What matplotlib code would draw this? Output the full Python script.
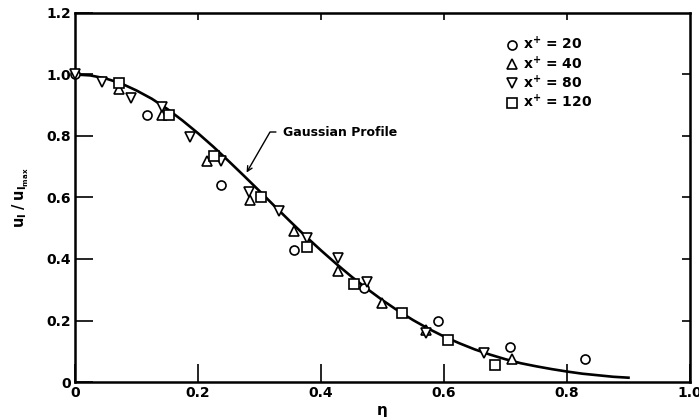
import numpy as np
import matplotlib
matplotlib.use("Agg")
import matplotlib.pyplot as plt

plt.rcParams['font.family'] = ['DejaVu Sans']
plt.rcParams['mathtext.default'] = 'bf'

# Gaussian profile
eta_fit = [0.0, 0.025, 0.05, 0.075, 0.10, 0.125, 0.15, 0.175, 0.20, 0.225,
           0.25, 0.275, 0.30, 0.325, 0.35, 0.375, 0.40, 0.425, 0.45, 0.475,
           0.50, 0.525, 0.55, 0.575, 0.60, 0.625, 0.65, 0.675, 0.70, 0.725,
           0.75, 0.775, 0.80, 0.825, 0.85, 0.875, 0.90]
u_fit = [1.000, 0.997, 0.987, 0.971, 0.948, 0.921, 0.888, 0.850, 0.809, 0.765,
         0.718, 0.670, 0.621, 0.571, 0.522, 0.474, 0.428, 0.384, 0.342, 0.303,
         0.266, 0.232, 0.201, 0.173, 0.148, 0.126, 0.106, 0.089, 0.074, 0.061,
         0.051, 0.042, 0.034, 0.027, 0.022, 0.017, 0.014]

# measured points
eta_20 = [0.0, 0.117, 0.237, 0.356, 0.470, 0.590, 0.708, 0.829]
u_20 = [1.0, 0.868, 0.641, 0.429, 0.305, 0.198, 0.114, 0.075]

eta_40 = [0.072, 0.141, 0.214, 0.285, 0.356, 0.428, 0.499, 0.571, 0.711]
u_40 = [0.952, 0.868, 0.719, 0.592, 0.492, 0.361, 0.258, 0.168, 0.076]

eta_80 = [0.0, 0.044, 0.091, 0.141, 0.187, 0.237, 0.283, 0.331, 0.378, 0.428,
          0.474, 0.571, 0.665]
u_80 = [1.0, 0.977, 0.925, 0.895, 0.798, 0.719, 0.619, 0.556, 0.467, 0.402,
        0.326, 0.158, 0.094]

eta_120 = [0.072, 0.153, 0.226, 0.302, 0.378, 0.454, 0.531, 0.607, 0.683]
u_120 = [0.971, 0.868, 0.735, 0.603, 0.438, 0.318, 0.223, 0.137, 0.055]

labels = ['x$^{+}$ = 20', 'x$^{+}$ = 40', 'x$^{+}$ = 80', 'x$^{+}$ = 120']

fig = plt.figure(figsize=(6.99, 4.17), dpi=100)
ax = fig.add_axes([75/699, 35/417, 615/699, 369/417])

ax.plot(eta_fit, u_fit, color='black', lw=1.9, zorder=2)

mk = dict(ls='none', mfc='white', mec='black', mew=1.2, ms=6.5, clip_on=False, zorder=3)
ax.plot(eta_20, u_20, marker='o', label=labels[0], **mk)
ax.plot(eta_40, u_40, marker='^', label=labels[1], **mk)
ax.plot(eta_80, u_80, marker='v', label=labels[2], **mk)
ax.plot(eta_120, u_120, marker='s', label=labels[3], **mk)

ax.set_xlim(0, 1.0)
ax.set_ylim(0, 1.2)
ax.set_xticks([0, 0.2, 0.4, 0.6, 0.8, 1.0])
ax.set_xticklabels(['0', '0.2', '0.4', '0.6', '0.8', '1.0'])
ax.set_yticks([0, 0.2, 0.4, 0.6, 0.8, 1.0, 1.2])
ax.set_yticklabels(['0', '0.2', '0.4', '0.6', '0.8', '1.0', '1.2'])
ax.tick_params(direction='in', length=13, width=1.2, pad=3,
               labelsize=10)
for lab in ax.get_xticklabels() + ax.get_yticklabels():
    lab.set_fontweight('bold')
for s in ax.spines.values():
    s.set_linewidth(1.8)

# short ticks on top and right
top = ax.secondary_xaxis('top')
top.set_xticks([0.2, 0.4, 0.6, 0.8])
top.set_xticklabels([])
top.tick_params(direction='in', length=5, width=1.2)
right = ax.secondary_yaxis('right')
right.set_yticks([0.2, 0.4, 0.6, 0.8, 1.0])
right.set_yticklabels([])
right.tick_params(direction='in', length=6, width=1.2)

ax.set_xlabel('η', fontsize=11, fontweight='bold', labelpad=2)
ax.set_ylabel('$u_l\\;/\\;u_{l_{max}}$', fontsize=10.5, labelpad=11)

ax.annotate('Gaussian Profile', xy=(0.279, 0.681), xytext=(0.338, 0.813),
            fontsize=9, fontweight='bold', ha='left', va='center',
            arrowprops=dict(arrowstyle='->', color='black', lw=1.0,
                            connectionstyle='angle,angleA=0,angleB=60,rad=0',
                            shrinkA=3, shrinkB=0))

leg = ax.legend(loc='upper left', bbox_to_anchor=(0.69, 0.955), frameon=False,
                handlelength=1.0, handletextpad=0.3, labelspacing=0.15,
                borderaxespad=0, prop={'size': 10, 'weight': 'bold'})

fig.savefig('out.png', dpi=100)
